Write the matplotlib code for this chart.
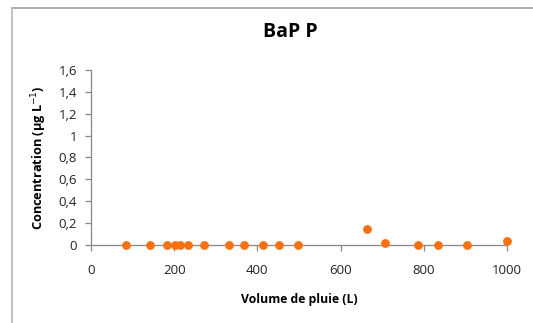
import matplotlib.pyplot as plt
from matplotlib.lines import Line2D

# data
volume = [83, 141, 182, 201, 213, 233, 271, 332, 369, 413, 453, 498,
          663, 707, 787, 834, 903, 1000]
conc = [0.0, 0.0, 0.0, 0.0, 0.0, 0.0, 0.0, 0.0, 0.0, 0.0, 0.0, 0.0,
        0.15, 0.015, 0.0, 0.0, 0.0, 0.04]
y_ticks = [0, 0.2, 0.4, 0.6, 0.8, 1.0, 1.2, 1.4, 1.6]
y_labels = ["0", "0,2", "0,4", "0,6", "0,8", "1", "1,2", "1,4", "1,6"]
x_ticks = [0, 200, 400, 600, 800, 1000]

plt.rcParams['font.family'] = ['Open Sans', 'DejaVu Sans']

fig = plt.figure(figsize=(5.33, 3.23), dpi=100)
ax = fig.add_axes([0.1707, 0.2415, 0.7805, 0.5418])

ax.scatter(volume, conc, s=28, color="#F8700F", zorder=3, clip_on=False)

ax.set_xlim(0, 1000)
ax.set_ylim(0, 1.6)
ax.set_yticks(y_ticks)
ax.set_yticklabels(y_labels)
ax.set_xticks(x_ticks)

for s in ["top", "right"]:
    ax.spines[s].set_visible(False)
for s in ["left", "bottom"]:
    ax.spines[s].set_color("#878787")
    ax.spines[s].set_linewidth(0.9)
ax.tick_params(axis="both", colors="#878787", labelcolor="#222222",
               labelsize=9.5, length=4, width=0.9, direction="out")
ax.tick_params(axis="x", pad=10)
ax.tick_params(axis="y", pad=6)

ax.set_xlabel("Volume de pluie (L)", fontsize=8.8, fontweight="bold", labelpad=11)
ax.set_ylabel("Concentration (µg L$^{-1}$)", fontsize=9.2, fontweight="bold", labelpad=7)
fig.text(0.545, 0.9, "BaP P", fontsize=14, fontweight="bold",
         ha="center", va="center")

# grey frame around the chart area (top and left edges visible)
fig.add_artist(Line2D([12 / 533, 1], [1 - 8 / 323, 1 - 8 / 323],
                      transform=fig.transFigure, color="#A6A6A6", lw=1.3))
fig.add_artist(Line2D([12 / 533, 12 / 533], [0, 1 - 8 / 323],
                      transform=fig.transFigure, color="#BDBDBD", lw=1.3))

fig.savefig("out.png", dpi=100)
